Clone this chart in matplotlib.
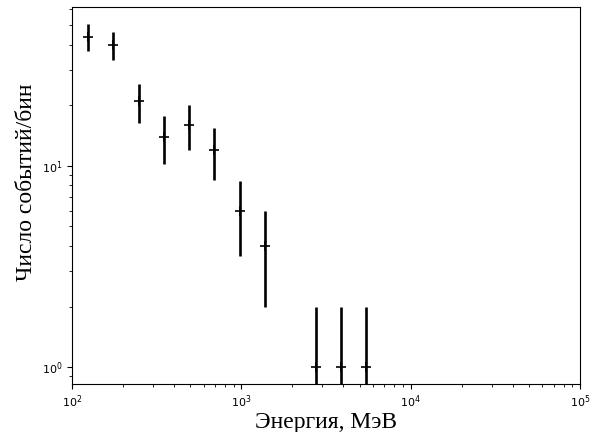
import matplotlib
matplotlib.use("Agg")
import matplotlib.pyplot as plt
import numpy as np

energy = [124, 175, 249, 349, 491, 690, 982, 1380, 2760, 3880, 5460]
counts = [44, 40, 21, 14, 16, 12, 6, 4, 1, 1, 1]

err = np.sqrt(counts)

fig = plt.figure(figsize=(5.98, 4.32), dpi=100)
ax = fig.add_axes([0.1204, 0.111, 0.8496, 0.873])
ax.errorbar(energy, counts, yerr=err, fmt='+', color='black', ms=6.5,
            mew=1.2, elinewidth=1.9, capsize=0)
ax.set_xscale('log')
ax.set_yscale('log')
ax.set_xlim(1e2, 1e5)
ax.set_ylim(0.823, 61.8)
ax.tick_params(labelsize=8)
ax.set_xlabel('Энергия, МэВ', family='Liberation Serif', fontsize=17, labelpad=1)
ax.set_ylabel('Число событий/бин', family='Liberation Serif', fontsize=17)
ax.yaxis.set_label_coords(-0.068, 0.535)
fig.savefig('out.png', dpi=100)
